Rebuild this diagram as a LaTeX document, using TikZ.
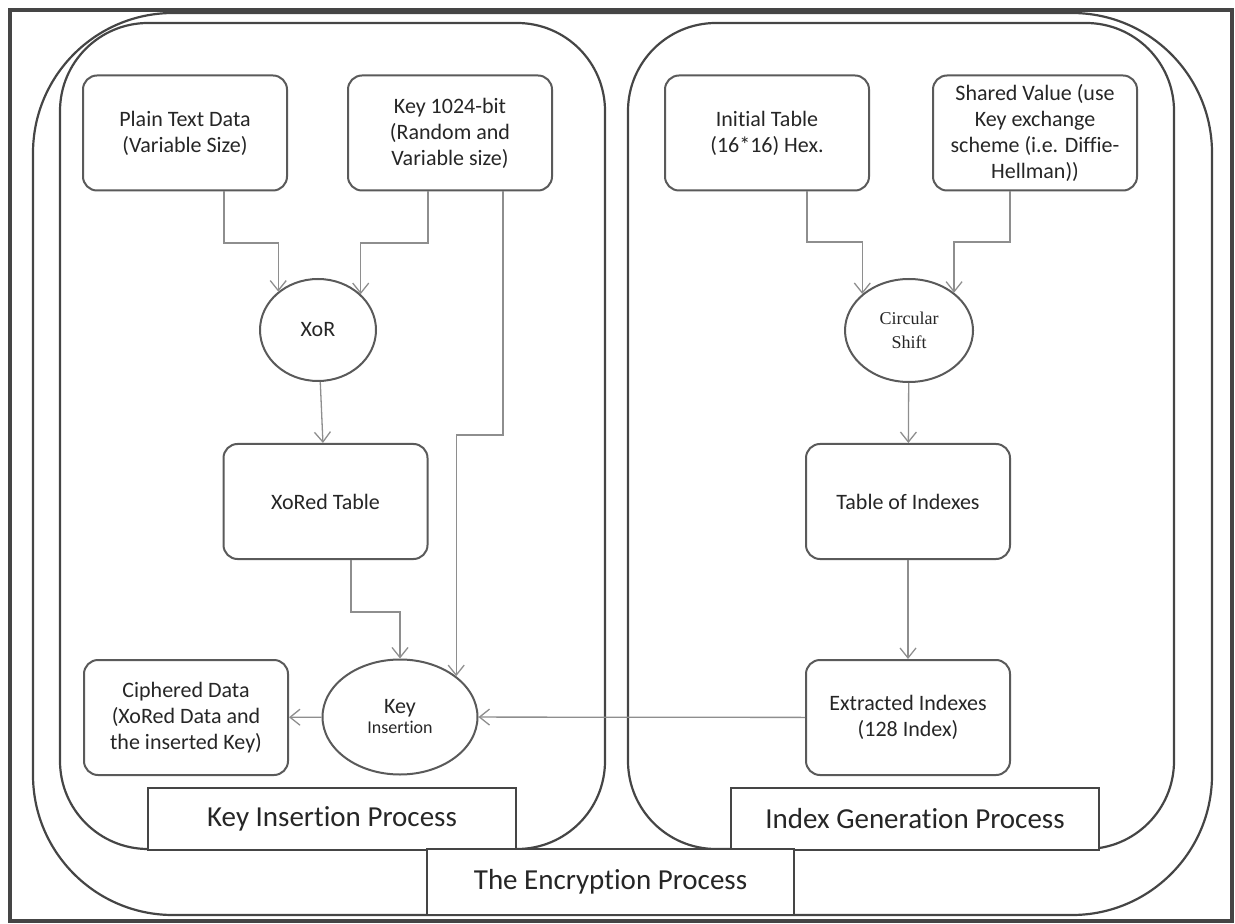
\documentclass[tikz,border=0pt]{standalone}
\usepackage{fontspec}
\setmainfont{Carlito}[Ligatures={NoCommon,NoRare,NoDiscretionary}]
\newfontfamily\shiftfont{Liberation Serif}[Ligatures=NoCommon]
\usetikzlibrary{arrows.meta,shapes.geometric}

\definecolor{framegray}{HTML}{454545}
\definecolor{boxgray}{HTML}{5A5A5A}
\definecolor{linegray}{HTML}{8E8E8E}

\begin{document}
\begin{tikzpicture}[x=0.5pt,y=-0.5pt,
  panel/.style={draw=framegray, line width=1.1pt},
  box/.style={draw=boxgray, line width=1pt, rounded corners=7pt, fill=white,
    minimum width=102pt, minimum height=57.5pt, inner sep=1pt, align=center,
    text=black!85, font=\fontsize{11}{13}\selectfont},
  op/.style={ellipse, draw=boxgray, line width=1pt, fill=white, inner sep=1pt,
    align=center, text=black!85, font=\fontsize{11}{12}\selectfont},
  tagbox/.style={draw=framegray, line width=1.1pt, fill=white, minimum height=31pt,
    text=black!85, font=\fontsize{14.5}{16}\selectfont},
  conn/.style={draw=linegray, line width=0.65pt, -{Straight Barb[length=5pt,width=8pt]}}]
  \useasboundingbox (0,0) rectangle (1235,924);

  % frame and the two process panels
  \draw[framegray, line width=1.6pt] (10,10) rectangle (1232,921);
  \draw[panel, rounded corners=70pt] (33,13) rectangle (1212,915);
  \draw[panel, rounded corners=44pt] (60,23) rectangle (605,849);
  \draw[panel, rounded corners=44pt] (628,23) rectangle (1174,849);

  % panel titles
  \node[tagbox, minimum width=184pt] (kiptag) at (332,819) {Key Insertion Process};
  \node[tagbox, minimum width=184pt] (igptag) at (915,819) {Index Generation Process};
  \node[tagbox, minimum width=183.5pt, minimum height=33pt] (enctag) at (610.5,882) {The Encryption Process};

  % key insertion side
  \node[box] (plain) at (185,133) {Plain Text Data\\(Variable Size)};
  \node[box] (key) at (450,133) {Key 1024-bit\\(Random and\\Variable size)};
  \node[op, minimum width=58pt, minimum height=51pt] (xor) at (318,330) {XoR};
  \node[box] (xored) at (325.5,501.5) {XoRed Table};
  \node[op, minimum width=77.5pt, minimum height=57.5pt] (keyins) at (400,717)
    {Key\\[-2pt]{\fontsize{9}{10}\selectfont Insertion}};
  \node[box] (cipher) at (186,717.5) {Ciphered Data\\(XoRed Data and\\the inserted Key)};

  % index generation side
  \node[box] (init) at (767,133) {Initial Table\\(16*16) Hex.};
  \node[box] (shared) at (1035,133) {Shared Value (use\\Key exchange\\scheme (i.e. Diffie-\\Hellman))};
  \node[op, minimum width=64pt, minimum height=51.5pt, font=\shiftfont\fontsize{9}{12}\selectfont]
    (shift) at (909,330.5) {Circular\\Shift};
  \node[box] (tabidx) at (908,501.5) {Table of Indexes};
  \node[box] (extract) at (908,717.5) {Extracted Indexes\\(128 Index)};

  % connectors
  \draw[conn] (plain.south -| 224,0) -- (224,243) -| (xor.136);
  \draw[conn] (key.south -| 428,0) -- (428,243) -| (xor.40);
  \draw[conn] (key.south -| 503,0) -- (503,435) -| (keyins.36);
  \draw[conn] (xor) -- (xored);
  \draw[conn] (xored.south -| 351,0) -- (351,612) -| (keyins.north);
  \draw[conn] (keyins) -- (cipher);
  \draw[conn] (init.south -| 807,0) -- (807,242) -| (shift.142);
  \draw[conn] (shared.south -| 1010,0) -- (1010,242) -| (shift.40);
  \draw[conn] (shift) -- (tabidx);
  \draw[conn] (tabidx) -- (extract);
  \draw[conn] (extract) -- (keyins);
\end{tikzpicture}
\end{document}
